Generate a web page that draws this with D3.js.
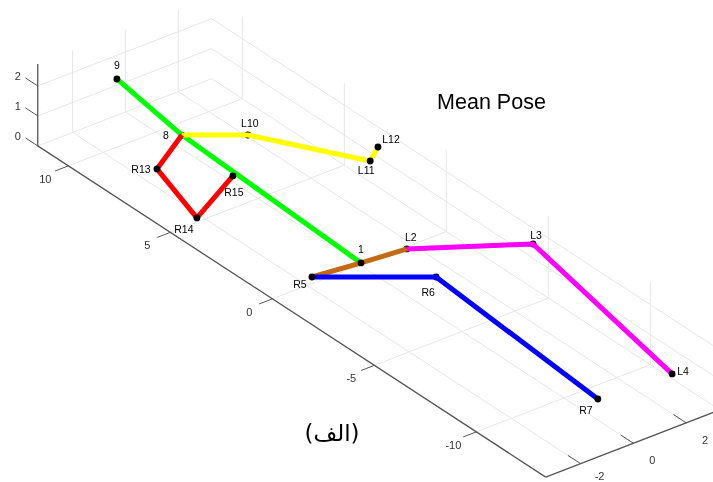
<!DOCTYPE html>
<html>
<head>
<meta charset="utf-8">
<script src="https://cdn.jsdelivr.net/npm/d3@7"></script>
<style>
  html, body { margin: 0; padding: 0; background: #fff; }
  svg { display: block; }
</style>
</head>
<body>
<script>
// joints
var jointNames = ["1", "8", "9", "L2", "L3", "L4", "R5", "R6", "R7", "L10", "L11", "L12", "R13", "R14", "R15"];
var jointX = [0.1, -0.37, -0.09, 1.59, 3.24, 3.23, -1.69, -0.27, 0.44, 1.2, 3.16, 3.2, -1.98, -2.6, -0.65];
var jointY = [0.08, 8.25, 11.8, -0.24, -4.29, -11.12, 0.17, -4.08, -11.09, 7.05, 3.59, 3.26, 7.39, 4.63, 5.39];
var jointZ = [0, 0.8, 1, 0.1, 1.5, 0.2, 0.1, 1.5, 0.3, 0.8, 0.8, 1.4, 0.6, 0.4, 0.8];

var limbGreen = ["1", "8", "9"];
var limbYellow = ["8", "L10", "L11", "L12"];
var limbRed = ["8", "R13", "R14", "R15"];
var limbMagenta = ["L2", "L3", "L4"];
var limbBrown = ["R5", "1", "L2"];
var limbBlue = ["R5", "R6", "R7"];

var xTicks = [-2, 0, 2];
var yTicks = [10, 5, 0, -5, -10];
var zTicks = [0, 1, 2];

var titleText = "Mean Pose";
var captionText = "(الف)";

var width = 713;
var height = 482;

var xMin = -3.32, xMax = 3.27;
var yMin = -13.4, yMax = 11.5;
var zMax = 2.73;

// oblique projection, each data axis adds its own pixel offset
var xToLeft = d3.scaleLinear().domain([0, 1]).range([360, 386.4]);
var xToTop = d3.scaleLinear().domain([0, 1]).range([265, 254.8]);
var yToLeft = d3.scaleLinear().domain([0, 1]).range([0, -20.4]);
var yToTop = d3.scaleLinear().domain([0, 1]).range([0, -13.3]);
var zToTop = d3.scaleLinear().domain([0, 1]).range([0, -30]);

function project(x, y, z) {
  return [xToLeft(x) + yToLeft(y), xToTop(x) + yToTop(y) + zToTop(z)];
}

var svg = d3.select("body").append("svg")
  .attr("width", width)
  .attr("height", height)
  .style("filter", "blur(0.6px)");

var segment = d3.line();

function addSegment(a, b, color, w) {
  svg.append("path")
    .attr("d", segment([project(a[0], a[1], a[2]), project(b[0], b[1], b[2])]))
    .attr("fill", "none")
    .attr("stroke", color)
    .attr("stroke-width", w);
}

// grid
var gridColor = "#e6e6e6";
yTicks.forEach(function (t) {
  addSegment([xMin, t, 0], [xMax, t, 0], gridColor, 1);
  addSegment([xMax, t, 0], [xMax, t, zMax], gridColor, 1);
});
xTicks.forEach(function (t) {
  addSegment([t, yMin, 0], [t, yMax, 0], gridColor, 1);
  addSegment([t, yMax, 0], [t, yMax, zMax], gridColor, 1);
});
zTicks.forEach(function (t) {
  addSegment([xMin, yMax, t], [xMax, yMax, t], gridColor, 1);
  addSegment([xMax, yMax, t], [xMax, yMin, t], gridColor, 1);
});

// axes and ticks
var axisColor = "#555";
addSegment([xMin, yMin, 0], [xMin, yMax, 0], axisColor, 1.3);
addSegment([xMin, yMin, 0], [xMax, yMin, 0], axisColor, 1.3);
addSegment([xMin, yMax, 0], [xMin, yMax, zMax], axisColor, 1.3);

yTicks.forEach(function (t) {
  addSegment([xMin, t, 0], [xMin - 0.5, t, 0], axisColor, 1);
});
xTicks.forEach(function (t) {
  addSegment([t, yMin, 0], [t, yMin + 0.62, 0], axisColor, 1);
});
zTicks.forEach(function (t) {
  addSegment([xMin, yMax, t], [xMin, yMax + 0.6, t], axisColor, 1);
});

function addTickLabel(t, p, dx, dy) {
  svg.append("text")
    .attr("x", p[0] + dx)
    .attr("y", p[1] + dy)
    .attr("text-anchor", "middle")
    .attr("dominant-baseline", "central")
    .attr("font-family", "'Liberation Sans', sans-serif")
    .attr("font-size", 11)
    .attr("fill", "#333")
    .text(t);
}

yTicks.forEach(function (t) { addTickLabel(t, project(xMin, t, 0), -23, 13); });
// the -2 label would fall off the bottom edge, pull it up to stay readable
xTicks.forEach(function (t) { addTickLabel(t, project(t, yMin, 0), 19, t < 0 ? 12 : 17); });
zTicks.forEach(function (t) { addTickLabel(t, project(xMin, yMax, t), -20, -10); });

// skeleton
function jointPoint(name) {
  var i = jointNames.indexOf(name);
  return project(jointX[i], jointY[i], jointZ[i]);
}

// these joints are buried under the limbs, the rest sit on top
var buriedJoints = ["8", "L10", "L2", "R6", "L3"];

function addDots(names) {
  svg.append("g").selectAll("circle")
    .data(names)
    .enter()
      .append("circle")
      .attr("cx", function (d) { return jointPoint(d)[0]; })
      .attr("cy", function (d) { return jointPoint(d)[1]; })
      .attr("r", 3.4)
      .attr("fill", "#000");
}

addDots(buriedJoints);

[[limbGreen, "#00ff00"], [limbYellow, "#ffff00"], [limbRed, "#ff0000"],
 [limbMagenta, "#ff00ff"], [limbBrown, "#c46a12"], [limbBlue, "#0000ff"]].forEach(function (limb) {
  svg.append("path")
    .attr("d", segment(limb[0].map(jointPoint)))
    .attr("fill", "none")
    .attr("stroke", limb[1])
    .attr("stroke-width", 5)
    .attr("stroke-linejoin", "round");
});

addDots(jointNames.filter(function (d) { return buriedJoints.indexOf(d) < 0; }));

// label nudges in pixels from the joint
var labelNudge = {
  "9": [0, -14], "8": [-16, 0], "L10": [2, -12], "L11": [-4, 9], "L12": [13, -8],
  "R13": [-16, 0], "R14": [-13, 11], "R15": [1, 16], "1": [0, -14], "L2": [4, -12],
  "L3": [3, -9], "L4": [11, -3], "R5": [-12, 7], "R6": [-8, 15], "R7": [-12, 11]
};

svg.append("g").selectAll("text")
  .data(jointNames)
  .enter()
    .append("text")
    .attr("x", function (d) { return jointPoint(d)[0] + labelNudge[d][0]; })
    .attr("y", function (d) { return jointPoint(d)[1] + labelNudge[d][1]; })
    .attr("text-anchor", "middle")
    .attr("dominant-baseline", "central")
    .attr("font-family", "'Liberation Sans', sans-serif")
    .attr("font-size", 10.5)
    .attr("fill", "#000")
    .text(function (d) { return d; });

svg.append("text")
  .attr("x", 491.5)
  .attr("y", 102)
  .attr("text-anchor", "middle")
  .attr("dominant-baseline", "central")
  .attr("font-family", "'Liberation Sans', sans-serif")
  .attr("font-size", 21.5)
  .attr("fill", "#000")
  .text(titleText);

svg.append("text")
  .attr("x", 332)
  .attr("y", 433)
  .attr("text-anchor", "middle")
  .attr("dominant-baseline", "central")
  .attr("direction", "rtl")
  .attr("font-family", "'DejaVu Sans', sans-serif")
  .attr("font-size", 23)
  .attr("fill", "#000")
  .text(captionText);
</script>
</body>
</html>
